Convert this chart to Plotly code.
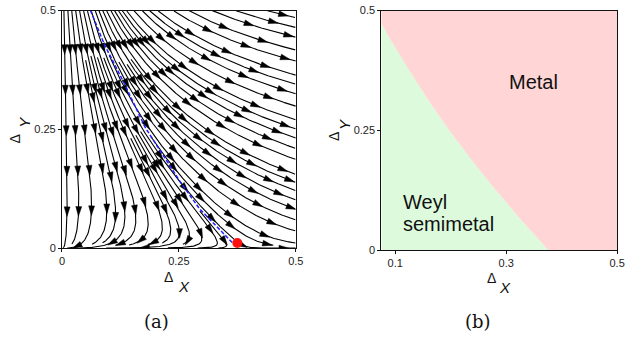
import numpy as np
import plotly.graph_objects as go

# ---------------- data ----------------
tick_a_vals = [0, 0.25, 0.5]
tick_a_text = ["0", "0.25", "0.5"]
tick_bx_vals = [0.1, 0.3, 0.5]
tick_bx_text = ["0.1", "0.3", "0.5"]
tick_by_vals = [0, 0.25, 0.5]
tick_by_text = ["0", "0.25", "0.5"]

# critical line of the RG flow (panel a)
crit_x = [0.061, 0.091, 0.133, 0.178, 0.252, 0.294, 0.357, 0.366]
crit_y = [0.500, 0.428, 0.347, 0.254, 0.141, 0.083, 0.019, 0.010]

# unstable fixed point
fp_x = [0.375]
fp_y = [0.011]

# phase boundary Weyl semimetal / metal (panel b)
bnd_x = [0.075, 0.089, 0.125, 0.162, 0.196, 0.238, 0.275, 0.324, 0.376]
bnd_y = [0.474, 0.444, 0.376, 0.309, 0.252, 0.188, 0.134, 0.067, 0.000]

# RG flow model: separatrix x = X0*exp(-(A y + B y^2)), u = x / separatrix
X0 = 0.375
A, B = 2.7, 1.8
K, C = 0.35, 1.0

BX_MIN = 0.075


def flow(x, y):
    g = X0 * np.exp(-(A * y + B * y * y))
    u = x / g
    du = K * u * (u - 1.0)
    dy = -C * y
    dx = g * du - x * (A + 2 * B * y) * dy
    return dx, dy


# ---------------- evenly spaced streamlines (pixel space of panel a) ----------------
W, H = 238.0, 246.3
SX, SY = W / 0.5, H / 0.5
DSEP, DTEST = 8.0, 3.0
STEP = 1.0
VMIN = 0.5
MAXSTEP = 1500

grid = {}


def vdir(px, py):
    dx, dy = flow(px / SX, py / SY)
    vx, vy = dx * SX, dy * SY
    n = (vx * vx + vy * vy) ** 0.5
    if n < 1e-12:
        return 0.0, 0.0, 0.0
    return vx / n, vy / n, n


def add_pt(px, py, lid):
    key = (int(px // DSEP), int(py // DSEP))
    grid.setdefault(key, []).append((px, py, lid))


def near(px, py, d, lid=-1):
    i, j = int(px // DSEP), int(py // DSEP)
    r = int(d // DSEP) + 1
    d2 = d * d
    for ii in range(i - r, i + r + 1):
        for jj in range(j - r, j + r + 1):
            for (qx, qy, ql) in grid.get((ii, jj), ()):
                if ql != lid and (qx - px) ** 2 + (qy - py) ** 2 < d2:
                    return True
    return False


def trace(px, py, sign, lid):
    pts = []
    x, y = px, py
    for _ in range(MAXSTEP):
        ux, uy, n = vdir(x, y)
        if n < VMIN:
            break
        mx, my = x + 0.5 * STEP * sign * ux, y + 0.5 * STEP * sign * uy
        ux2, uy2, n2 = vdir(mx, my)
        if n2 < VMIN:
            break
        nx, ny = x + STEP * sign * ux2, y + STEP * sign * uy2
        if not (0 <= nx <= W and 0 <= ny <= H):
            break
        if near(nx, ny, DTEST, lid):
            break
        pts.append((nx, ny))
        x, y = nx, ny
    return pts


lines = []


def arc_len(pts):
    p = np.asarray(pts)
    if len(p) < 2:
        return 0.0
    return float(np.sum(np.hypot(np.diff(p[:, 0]), np.diff(p[:, 1]))))


def try_seed(px, py):
    if not (0.3 <= px <= W - 0.3 and 0.3 <= py <= H - 0.3):
        return
    if near(px, py, DSEP * 0.97):
        return
    _, _, n = vdir(px, py)
    if n < VMIN:
        return
    lid = len(lines)
    back = trace(px, py, -1, lid)
    fwd = trace(px, py, +1, lid)
    pts = back[::-1] + [(px, py)] + fwd
    if arc_len(pts) < 10:
        return
    lines.append(pts)
    for p in pts:
        add_pt(p[0], p[1], lid)


for sx in np.arange(2.0, W, DSEP):
    try_seed(sx, H - 0.5)
k = 0
while k < len(lines):
    pts = lines[k]
    for idx in range(0, len(pts), 3):
        i0, i1 = max(idx - 1, 0), min(idx + 1, len(pts) - 1)
        tx, ty = pts[i1][0] - pts[i0][0], pts[i1][1] - pts[i0][1]
        tn = (tx * tx + ty * ty) ** 0.5 or 1.0
        nx, ny = -ty / tn, tx / tn
        x, y = pts[idx]
        try_seed(x + nx * DSEP, y + ny * DSEP)
        try_seed(x - nx * DSEP, y - ny * DSEP)
    k += 1
for gy in np.arange(1.5, H, DSEP / 2):
    for gx in np.arange(1.5, W, DSEP / 2):
        try_seed(gx, gy)

# ---------------- polylines and arrowheads ----------------
ARROW_GAP = 42.0
AL, AW = 10.0, 6.0
line_x, line_y, arr_x, arr_y = [], [], [], []
for li, pts in enumerate(lines):
    p = np.asarray(pts)
    line_x += list(p[:, 0] / SX) + [None]
    line_y += list(p[:, 1] / SY) + [None]
    seg = np.hypot(np.diff(p[:, 0]), np.diff(p[:, 1]))
    s = np.concatenate([[0.0], np.cumsum(seg)])
    L = s[-1]
    if L < 14:
        continue
    if L < ARROW_GAP:
        spots = [L * 0.55]
    else:
        spots = list(np.arange(ARROW_GAP * 0.92, L - 4, ARROW_GAP))
    for sp in spots:
        i = int(np.searchsorted(s, sp))
        i = min(max(i, 1), len(p) - 2)
        tx, ty = p[i + 1, 0] - p[i - 1, 0], p[i + 1, 1] - p[i - 1, 1]
        tn = np.hypot(tx, ty) or 1.0
        tx, ty = tx / tn, ty / tn
        cx, cy = p[i]
        tipx, tipy = cx + tx * AL * 0.6, cy + ty * AL * 0.6
        bx, by = cx - tx * AL * 0.4, cy - ty * AL * 0.4
        c1 = (bx - ty * AW / 2, by + tx * AW / 2)
        c2 = (bx + ty * AW / 2, by - tx * AW / 2)
        for (qx, qy) in [(tipx, tipy), c1, c2, (tipx, tipy)]:
            arr_x.append(qx / SX)
            arr_y.append(qy / SY)
        arr_x.append(None)
        arr_y.append(None)

fig = go.Figure()

# panel (a): flow
fig.add_trace(go.Scatter(x=line_x, y=line_y, mode="lines",
                         line=dict(color="black", width=1.1),
                         hoverinfo="skip", xaxis="x", yaxis="y"))
fig.add_trace(go.Scatter(x=arr_x, y=arr_y, mode="lines", fill="toself",
                         fillcolor="black", line=dict(color="black", width=0.5),
                         hoverinfo="skip", xaxis="x", yaxis="y"))
fig.add_trace(go.Scatter(x=crit_x, y=crit_y, mode="lines",
                         line=dict(color="#1f1fff", width=1.5, dash="4px,2px"),
                         xaxis="x", yaxis="y"))
fig.add_trace(go.Scatter(x=fp_x, y=fp_y, mode="markers",
                         marker=dict(color="#ff1010", size=10),
                         xaxis="x", yaxis="y", cliponaxis=False))

# panel (b): phase diagram
green_x = [BX_MIN] + bnd_x + [BX_MIN]
green_y = [0.0] + bnd_y + [0.0]
pink_x = [BX_MIN, BX_MIN, 0.5, 0.5] + bnd_x[::-1]
pink_y = [bnd_y[0], 0.5, 0.5, 0.0] + bnd_y[::-1]
fig.add_trace(go.Scatter(x=green_x, y=green_y, mode="lines", fill="toself",
                         fillcolor="#ddfadd", line=dict(width=0),
                         hoverinfo="skip", xaxis="x2", yaxis="y2"))
fig.add_trace(go.Scatter(x=pink_x, y=pink_y, mode="lines", fill="toself",
                         fillcolor="#ffd5d5", line=dict(width=0),
                         hoverinfo="skip", xaxis="x2", yaxis="y2"))

axis_common = dict(showline=True, mirror=True, linecolor="#111", linewidth=1,
                   ticks="outside", ticklen=3, tickcolor="#111", showgrid=False,
                   zeroline=False, ticklabeloverflow="allow",
                   tickfont=dict(family="Liberation Sans, Arial", size=11, color="#222"))

fig.update_layout(
    width=632, height=341, margin=dict(l=0, r=0, t=0, b=0),
    paper_bgcolor="white", plot_bgcolor="white", showlegend=False,
    xaxis=dict(domain=[60 / 632, 298 / 632], range=[0, 0.5],
               tickvals=tick_a_vals, ticktext=tick_a_text, anchor="y", **axis_common),
    yaxis=dict(domain=[1 - 251 / 341, 1 - 4.7 / 341], range=[0, 0.5],
               tickvals=tick_a_vals, ticktext=tick_a_text, anchor="x", **axis_common),
    xaxis2=dict(domain=[385 / 632, 625 / 632], range=[BX_MIN, 0.5],
                tickvals=tick_bx_vals, ticktext=tick_bx_text, anchor="y2", **axis_common),
    yaxis2=dict(domain=[1 - 253 / 341, 1 - 4.7 / 341], range=[0, 0.5],
                tickvals=tick_by_vals, ticktext=tick_by_text, anchor="x2", **axis_common),
)


def label(text, px, py, size, italic=False, family="Liberation Sans, Arial",
          angle=0, xanchor="center"):
    fig.add_annotation(text=text, x=px / 632, y=1 - py / 341, xref="paper", yref="paper",
                       showarrow=False, xanchor=xanchor, yanchor="middle", textangle=angle,
                       font=dict(family=family, size=size, color="#111",
                                 style="italic" if italic else "normal"))


# axis titles
label("Δ", 168.5, 281, 14)
label("X", 184.7, 291, 15, italic=True)
label("Δ", 496.7, 282, 14)
label("X", 511, 292, 15, italic=True)
label("Δ", 12.5, 138, 14, angle=-90)
label("Y", 22.5, 121, 15, italic=True, angle=-90)
label("Δ", 337.5, 135, 14, angle=-90)
label("Y", 347.5, 123, 15, italic=True, angle=-90)

# phase labels
label("Metal", 540, 79, 20)
label("Weyl", 405, 203, 20, xanchor="left")
label("semimetal", 405, 226, 20, xanchor="left")

# panel captions
label("(a)", 156, 327, 18, family="DejaVu Serif")
label("(b)", 483, 327, 18, family="DejaVu Serif")

fig.write_html("out.html")
